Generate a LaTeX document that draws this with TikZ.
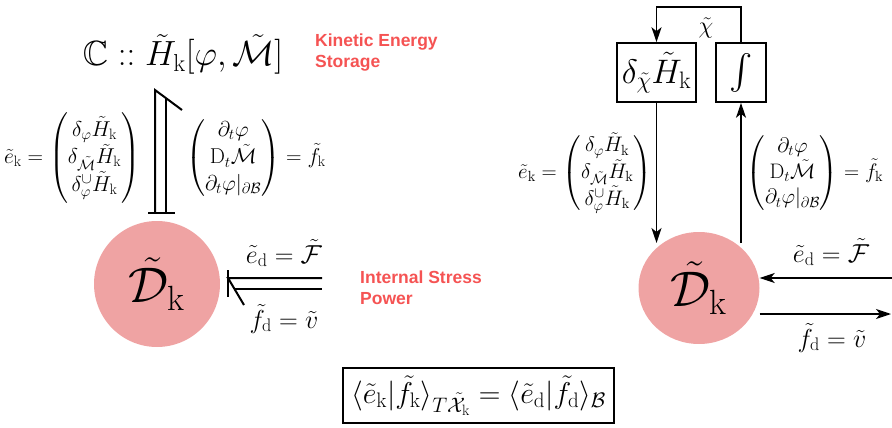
\RequirePackage{fix-cm}
\documentclass[tikz,border=0pt]{standalone}
\usepackage{amsmath,amssymb}
\usepackage{fontspec}
\newfontfamily\redsans{Liberation Sans}
\usetikzlibrary{arrows.meta,shapes.geometric}
\definecolor{lbl}{RGB}{245,83,83}
\definecolor{blob}{RGB}{239,163,163}
\newcommand\mysize[2]{\fontsize{#1}{#2}\selectfont}
\tikzset{
  bond/.style={line width=2pt},
  arr/.style={line width=1.3pt,-{Stealth[length=15pt,width=10pt,inset=4pt]}},
  plain/.style={line width=1.3pt},
  blk/.style={draw,line width=1.6pt,inner sep=0pt,minimum height=59pt},
  red/.style={anchor=north west,align=left,inner sep=0pt,text=lbl,font=\redsans\bfseries\mysize{17.5}{21}},
  mat/.style={inner sep=0pt,font=\mysize{21.5}{26.5}},
  flow/.style={inner sep=0pt,anchor=base,font=\mysize{26}{31}},
}
\begin{document}
\begin{tikzpicture}[x=1pt,y=-1pt]
\useasboundingbox (0,0) rectangle (892,428);

% ---------------- left: bond graph ----------------
\node[inner sep=0pt,anchor=base,font=\mysize{35}{42}] (heading) at (183,66)
  {$\mathbb{C} :: \tilde H_\mathrm{k}[\varphi,\tilde{\mathcal M}]$};
\node[red] (kes) at (315,34) {Kinetic Energy\\Storage};

\node[mat] (ekL) at (72,158)
  {$\tilde e_\mathrm{k} = \begin{pmatrix}\delta_\varphi\tilde H_\mathrm{k}\\ \delta_{\tilde{\mathcal M}}\tilde H_\mathrm{k}\\ \delta^{\cup}_{\varphi}\tilde H_\mathrm{k}\end{pmatrix}$};
\node[mat] (fkL) at (256,158)
  {$\begin{pmatrix}\partial_t\varphi\\ \mathrm{D}_t\tilde{\mathcal M}\\ \partial_t\varphi|_{\partial\mathcal B}\end{pmatrix} = \tilde f_\mathrm{k}$};

\node[circle,fill=blob,minimum size=126pt,inner sep=0pt,font=\mysize{50}{60}] (DL) at (157,284)
  {$\tilde{\mathcal D}_\mathrm{k}$};

% vertical bond (double line with half arrow and causal stroke)
\coordinate (vA) at (155,90);
\coordinate (vB) at (182,110);
\coordinate (vC) at (155,213);
\coordinate (vD) at (166,98);
\coordinate (vE) at (166,213);
\coordinate (sL) at (148,213);
\coordinate (sR) at (175,213);
\draw[bond,line join=miter] (vB) -- (vA) -- (vC);
\draw[bond] (vD) -- (vE);
\draw[bond] (sL) -- (sR);

% horizontal bond
\coordinate (hA) at (228,278);
\coordinate (hB) at (244,305);
\coordinate (hC) at (322,278);
\coordinate (hD) at (234,289);
\coordinate (hE) at (322,289);
\coordinate (hT) at (228,270);
\coordinate (hS) at (228,297);
\draw[bond,line join=miter] (hB) -- (hA) -- (hC);
\draw[bond] (hD) -- (hE);
\draw[bond] (hT) -- (hS);

\node[flow] (edL) at (284,263) {$\tilde e_\mathrm{d} = \tilde{\mathcal F}$};
\node[flow] (fdL) at (284,328) {$\tilde f_\mathrm{d} = \tilde v$};
\node[red] (isp) at (360,271) {Internal Stress\\Power};

% ---------------- right: block diagram ----------------
\node[blk,minimum width=79pt,font=\mysize{34}{41}] (dbox) at (656.5,72.5)
  {$\delta_{\tilde\chi}\tilde H_\mathrm{k}$};
\node[blk,minimum width=50pt,font=\mysize{35}{42}] (ibox) at (741,72.5)
  {$\int$};
\coordinate (fb) at (0,7);
\draw[plain,-{Stealth[length=15pt,width=10pt,inset=4pt]}]
  (ibox.north) -- (ibox.north |- fb) -- (dbox.north |- fb) -- (dbox.north);
\node[inner sep=0pt,font=\mysize{24}{29}] (chi) at (706,28) {$\tilde\chi$};

\node[ellipse,fill=blob,minimum width=121pt,minimum height=112pt,inner sep=0pt,font=\mysize{50}{60}] (DR) at (699,288)
  {$\tilde{\mathcal D}_\mathrm{k}$};

\coordinate (tipY) at (0,243);
\draw[arr] (dbox.south) -- (dbox.south |- tipY);
\draw[arr] (ibox.south |- tipY) -- (ibox.south);

\coordinate (eR) at (892,278);
\coordinate (fR) at (891,314);
\draw[arr] (eR) -- (eR -| DR.east);
\draw[arr] (fR -| DR.east) -- (fR);

\node[mat,font=\mysize{21}{25.2}] (ekR) at (585,173)
  {$\tilde e_\mathrm{k} = \begin{pmatrix}\delta_\varphi\tilde H_\mathrm{k}\\ \delta_{\tilde{\mathcal M}}\tilde H_\mathrm{k}\\ \delta^{\cup}_{\varphi}\tilde H_\mathrm{k}\end{pmatrix}$};
\node[mat,font=\mysize{21}{25.2}] (fkR) at (815,173)
  {$\begin{pmatrix}\partial_t\varphi\\ \mathrm{D}_t\tilde{\mathcal M}\\ \partial_t\varphi|_{\partial\mathcal B}\end{pmatrix} = \tilde f_\mathrm{k}$};

\node[flow] (edR) at (831,262) {$\tilde e_\mathrm{d} = \tilde{\mathcal F}$};
\node[flow] (fdR) at (832,347) {$\tilde f_\mathrm{d} = \tilde v$};

% ---------------- bottom: power balance ----------------
\node[draw,line width=1.6pt,minimum width=271pt,minimum height=55pt,inner sep=0pt,font=\mysize{30}{36}] (bal) at (478.5,395.5)
  {$\langle\tilde e_\mathrm{k}|\tilde f_\mathrm{k}\rangle_{T\tilde{\mathcal X}_\mathrm{k}} = \langle\tilde e_\mathrm{d}|\tilde f_\mathrm{d}\rangle_{\mathcal B}$};
\end{tikzpicture}
\end{document}
